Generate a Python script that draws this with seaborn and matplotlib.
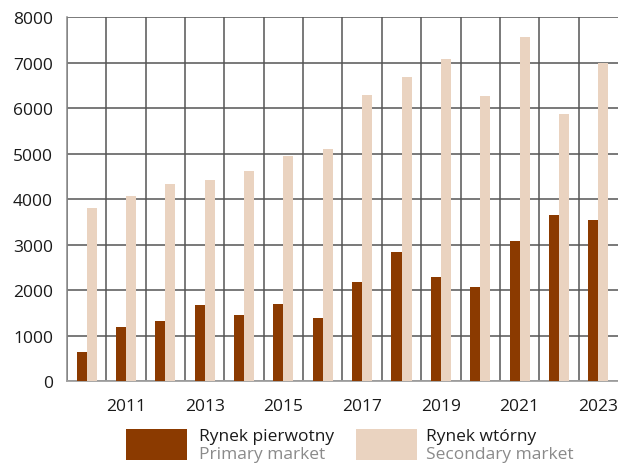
import matplotlib
matplotlib.use("Agg")
import matplotlib.pyplot as plt
import seaborn as sns
import pandas as pd
import numpy as np
from matplotlib.patches import Rectangle

years = [str(y) for y in range(2010, 2024)]
primary = [630, 1180, 1310, 1665, 1445, 1690, 1395, 2175, 2830, 2285, 2065, 3070, 3640, 3530]
secondary = [3800, 4065, 4325, 4425, 4615, 4945, 5100, 6290, 6675, 7075, 6265, 7565, 5860, 6990]
series_pl = ["Rynek pierwotny", "Rynek wtórny"]
series_en = ["Primary market", "Secondary market"]
colors = ["#8B3A00", "#EAD3C0"]

df = pd.DataFrame({
    "year": years * 2,
    "value": primary + secondary,
    "series": [series_pl[0]] * len(years) + [series_pl[1]] * len(years),
})

sns.set_theme(style="white")
plt.rcParams["font.family"] = ["Open Sans", "DejaVu Sans"]

fig = plt.figure(figsize=(6.18, 4.64), dpi=100)
ax = fig.add_axes([0.1084, 0.1767, 0.8916, 0.7845])

sns.barplot(data=df, x="year", y="value", hue="series", palette=colors,
            width=0.51, gap=0, saturation=1, ax=ax, legend=False, zorder=3,
            linewidth=0, edgecolor="none")

ax.set_ylim(0, 8000)
ax.set_xlim(-0.5, len(years) - 0.5)
ax.set_yticks(range(0, 8001, 1000))
ax.set_xticks(range(len(years)))
ax.set_xticklabels([y if i % 2 == 1 else "" for i, y in enumerate(years)])
ax.set_xticks(np.arange(-0.5, len(years) - 0.5, 1), minor=True)
ax.set_xlabel("")
ax.set_ylabel("")

ax.grid(axis="y", which="major", color="#555555", linewidth=1.1, zorder=0)
ax.grid(axis="x", which="minor", color="#555555", linewidth=1.1, zorder=0)
ax.grid(axis="x", which="major", visible=False)
ax.set_axisbelow(True)
for s in ["top", "right"]:
    ax.spines[s].set_visible(False)
ax.spines["left"].set_color("#8a8a8a")
ax.spines["left"].set_linewidth(1.1)
ax.spines["bottom"].set_color("#a0a0a0")
ax.spines["bottom"].set_linewidth(1.3)
ax.tick_params(axis="both", which="both", length=0, labelsize=12.5, colors="#1a1a1a")
ax.tick_params(axis="y", pad=10)
ax.tick_params(axis="x", pad=12)

# legend
W, H = 618, 464
def fx(x): return x / W
def fy(y): return 1 - y / H
for i, (x0, tx) in enumerate([(126, 199), (356, 426)]):
    fig.add_artist(Rectangle((fx(x0), fy(461)), fx(61), 31 / H, transform=fig.transFigure,
                             facecolor=colors[i], edgecolor="none"))
    fig.text(fx(tx), fy(437), series_pl[i], fontsize=12.5, color="#1a1a1a", va="center", ha="left")
    fig.text(fx(tx), fy(455), series_en[i], fontsize=12.5, color="#8a8a8a", va="center", ha="left")

fig.savefig("out.png", dpi=100)
